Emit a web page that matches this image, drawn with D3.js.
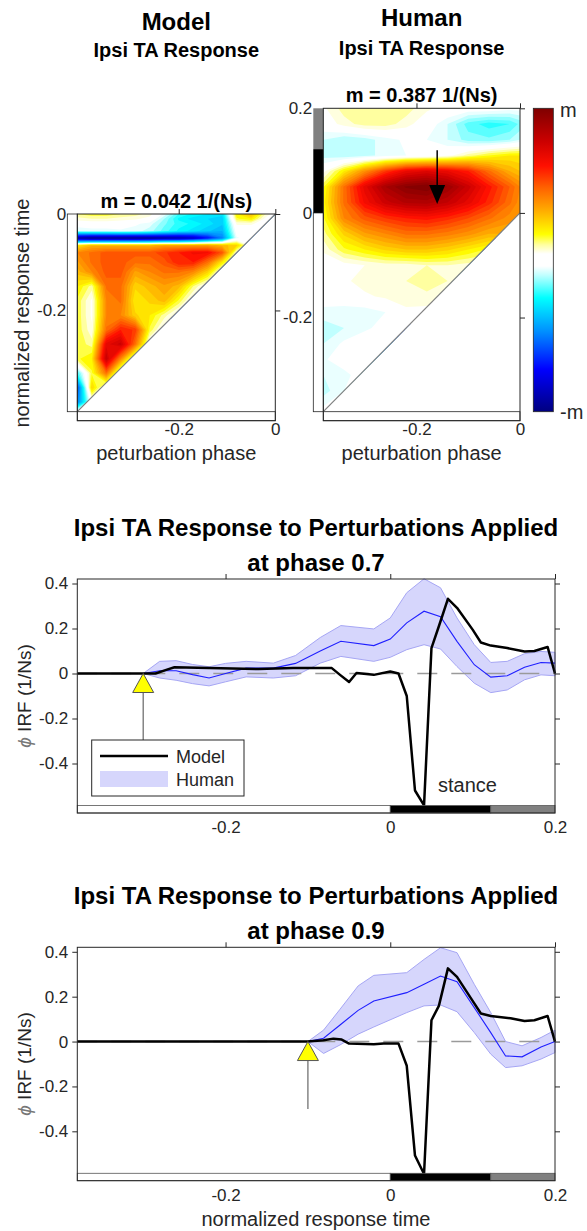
<!DOCTYPE html>
<html>
<head>
<meta charset="utf-8">
<script src="https://cdn.jsdelivr.net/npm/d3@7"></script>
<style>
  body { margin: 0; background: #fff; }
  text { font-family: "Liberation Sans", Arial, Helvetica, sans-serif; }
</style>
</head>
<body>
<div id="viz"></div>
<script>
// ---------- data ----------
// colour map, values relative to m
var cmapVals = [-1, -0.72, -0.47, -0.25, -0.1, -0.04, 0.04, 0.1, 0.17, 0.33, 0.48, 0.62, 0.78, 1];
var cmapCols = ['#00007f', '#0000ff', '#0090ff', '#00ffff', '#c0ffff', '#ffffff', '#ffffff',
                '#ffffa0', '#ffff00', '#ffaa00', '#ff6000', '#ff1000', '#cc0000', '#7f0000'];

// model IRF map (rows top -> bottom, normalised by m)
var modelCols = [-0.41, -0.38, -0.35, -0.32, -0.29, -0.26, -0.23, -0.20, -0.17, -0.14, -0.11, -0.08, -0.05, -0.02, 0];
var modelRows = [0, -0.01, -0.02, -0.035, -0.05, -0.065, -0.08, -0.10, -0.12, -0.15, -0.18, -0.21, -0.24, -0.27, -0.30, -0.33, -0.36, -0.39, -0.41];
var modelGrid = [
  [0.12, 0.15, 0.15, 0.12, 0.10, 0.06, -0.05, -0.20, -0.25, -0.28, -0.30, 0.20, 0.30, 0.08, 0],
  [0.06, 0.08, 0.08, 0.06, 0.05, 0.02, -0.12, -0.25, -0.30, -0.32, -0.35, 0.15, 0.20, 0.02, 0],
  [0.00, 0.00, 0.00, 0.00, -0.03, -0.06, -0.15, -0.22, -0.25, -0.30, -0.35, 0.05, 0.05, 0, 0],
  [-0.08, -0.06, -0.06, -0.05, -0.06, -0.10, -0.18, -0.25, -0.30, -0.35, -0.40, 0.00, 0, 0, 0],
  [-0.95, -1, -1, -1, -1, -0.98, -0.95, -0.92, -0.85, -0.70, -0.50, -0.05, 0, 0, 0],
  [0.20, 0.30, 0.30, 0.30, 0.30, 0.30, 0.35, 0.35, 0.35, 0.35, 0.30, 0.25, 0, 0, 0],
  [0.40, 0.45, 0.50, 0.50, 0.50, 0.50, 0.55, 0.60, 0.65, 0.65, 0.50, 0.05, 0, 0, 0],
  [0.35, 0.45, 0.50, 0.50, 0.45, 0.45, 0.50, 0.60, 0.60, 0.45, 0.20, 0, 0, 0, 0],
  [0.30, 0.40, 0.50, 0.50, 0.35, 0.40, 0.45, 0.45, 0.40, 0.25, 0, 0, 0, 0, 0],
  [0.20, 0.10, 0.45, 0.45, 0.25, 0.30, 0.35, 0.30, 0.12, 0, 0, 0, 0, 0, 0],
  [0.15, 0.03, 0.40, 0.45, 0.20, 0.25, 0.30, 0.15, 0, 0, 0, 0, 0, 0, 0],
  [0.15, 0.03, 0.40, 0.40, 0.25, 0.20, 0.10, 0, 0, 0, 0, 0, 0, 0, 0],
  [0.15, 0.05, 0.45, 0.60, 0.55, 0.15, 0, 0, 0, 0, 0, 0, 0, 0, 0],
  [0.15, 0.10, 0.70, 0.78, 0.45, 0, 0, 0, 0, 0, 0, 0, 0, 0, 0],
  [0.15, 0.20, 0.80, 0.40, 0, 0, 0, 0, 0, 0, 0, 0, 0, 0, 0],
  [-0.20, 0.15, 0.45, 0, 0, 0, 0, 0, 0, 0, 0, 0, 0, 0, 0],
  [-0.60, 0.25, 0, 0, 0, 0, 0, 0, 0, 0, 0, 0, 0, 0, 0],
  [-0.50, 0, 0, 0, 0, 0, 0, 0, 0, 0, 0, 0, 0, 0, 0],
  [0, 0, 0, 0, 0, 0, 0, 0, 0, 0, 0, 0, 0, 0, 0]
];

// human IRF map
var humanCols = [-0.38, -0.34, -0.30, -0.26, -0.22, -0.18, -0.14, -0.10, -0.06, -0.02, 0];
var humanRows = [0.2, 0.17, 0.14, 0.11, 0.08, 0.05, 0.02, -0.01, -0.04, -0.07, -0.10, -0.13, -0.16, -0.19, -0.22, -0.25, -0.28, -0.31, -0.34, -0.38];
var humanGrid = [
  [0.03, 0.10, 0.12, 0.12, 0.10, 0.05, 0.02, 0.00, 0.00, -0.02, -0.02],
  [0.00, 0.06, 0.10, 0.10, 0.06, 0.00, -0.08, -0.18, -0.22, -0.20, -0.15],
  [-0.08, -0.12, -0.10, -0.06, -0.03, -0.04, -0.08, -0.14, -0.15, -0.12, -0.08],
  [-0.10, -0.12, -0.10, -0.06, -0.04, -0.02, 0.02, 0.10, 0.16, 0.20, 0.20],
  [0.02, 0.20, 0.38, 0.55, 0.68, 0.72, 0.68, 0.60, 0.45, 0.32, 0.28],
  [0.15, 0.45, 0.70, 0.88, 0.97, 1.00, 0.92, 0.78, 0.62, 0.48, 0.40],
  [0.18, 0.45, 0.65, 0.78, 0.85, 0.86, 0.80, 0.70, 0.58, 0.45, 0.38],
  [0.15, 0.40, 0.50, 0.56, 0.60, 0.62, 0.58, 0.52, 0.45, 0.38, 0.38],
  [0.10, 0.25, 0.35, 0.40, 0.45, 0.45, 0.42, 0.38, 0.32, 0.32, 0.32],
  [0.05, 0.15, 0.20, 0.25, 0.28, 0.28, 0.25, 0.20, 0.15, 0.15, 0.15],
  [0.00, 0.02, 0.04, 0.06, 0.06, 0.08, 0.08, 0.06, 0.05, 0.05, 0.05],
  [-0.02, 0.03, 0.06, 0.05, 0.08, 0.10, 0.08, 0.05, 0.05, 0.05, 0.05],
  [0.00, 0.02, 0.03, 0.05, 0.08, 0.07, 0.05, 0.05, 0.05, 0.05, 0.05],
  [-0.06, -0.08, -0.07, -0.04, 0.02, 0.02, 0, 0, 0, 0, 0],
  [-0.10, -0.08, -0.05, -0.02, 0, 0, 0, 0, 0, 0, 0],
  [-0.08, -0.03, 0, 0, 0, 0, 0, 0, 0, 0, 0],
  [-0.05, 0, 0, 0, 0, 0, 0, 0, 0, 0, 0],
  [-0.08, -0.06, 0, 0, 0, 0, 0, 0, 0, 0, 0],
  [-0.10, -0.04, 0, 0, 0, 0, 0, 0, 0, 0, 0],
  [-0.02, 0, 0, 0, 0, 0, 0, 0, 0, 0, 0]
];
var humanArrowX = -0.16, humanArrowY = [0.12, 0.017];

// gait phase bar: white (swing) < 0, black (stance) to 0.122, grey after
var phaseEdges = [0, 0.122];
var phaseColors = ['#ffffff', '#000000', '#808080'];

// line charts
var pertPhases = ['0.7', '0.9'];
var pertTimes = [-0.30, -0.10];

var model07X = [-0.38, -0.30, -0.285, -0.272, -0.262, -0.22, -0.16, -0.118, -0.085, -0.071, -0.061, -0.05, -0.041, -0.02, 0, 0.01, 0.02, 0.03, 0.041, 0.05, 0.059, 0.07, 0.081, 0.10, 0.11, 0.122, 0.142, 0.163, 0.175, 0.191, 0.20];
var model07Y = [0, 0, 0.0, 0.016, 0.028, 0.024, 0.02, 0.024, 0.024, 0.024, -0.006, -0.038, 0.002, -0.006, 0.009, 0.0, -0.10, -0.52, -0.586, 0.113, 0.21, 0.332, 0.292, 0.195, 0.138, 0.124, 0.113, 0.098, 0.10, 0.118, 0.0];
var human07X = [-0.30, -0.28, -0.26, -0.24, -0.22, -0.20, -0.175, -0.142, -0.115, -0.085, -0.06, -0.02, 0, 0.02, 0.041, 0.061, 0.081, 0.102, 0.122, 0.142, 0.163, 0.183, 0.20];
var human07Mean = [0, 0.012, 0.012, -0.005, -0.02, 0.0, 0.024, 0.024, 0.045, 0.10, 0.143, 0.124, 0.153, 0.225, 0.277, 0.252, 0.143, 0.039, -0.016, -0.01, 0.028, 0.049, 0.046];
var human07Lo = [0, -0.02, -0.03, -0.045, -0.055, -0.037, -0.015, -0.02, -0.01, 0.046, 0.076, 0.054, 0.072, 0.106, 0.128, 0.109, 0.031, -0.043, -0.085, -0.073, -0.028, -0.006, -0.01];
var human07Hi = [0, 0.054, 0.057, 0.04, 0.03, 0.045, 0.054, 0.046, 0.08, 0.16, 0.213, 0.198, 0.247, 0.359, 0.421, 0.381, 0.247, 0.128, 0.049, 0.054, 0.088, 0.098, 0.094];

var model09X = [-0.38, -0.10, -0.081, -0.069, -0.059, -0.05, -0.02, -0.008, 0.01, 0.02, 0.03, 0.041, 0.05, 0.059, 0.07, 0.081, 0.10, 0.11, 0.122, 0.146, 0.163, 0.175, 0.191, 0.20];
var model09Y = [0, 0, 0.006, 0.013, 0.009, -0.009, -0.012, -0.009, -0.009, -0.108, -0.508, -0.59, 0.095, 0.159, 0.326, 0.288, 0.181, 0.125, 0.114, 0.104, 0.092, 0.095, 0.114, 0.0];
var human09X = [-0.10, -0.081, -0.061, -0.039, -0.02, 0.02, 0.041, 0.061, 0.081, 0.102, 0.122, 0.14, 0.16, 0.183, 0.20];
var human09Mean = [0, 0.015, 0.074, 0.139, 0.181, 0.218, 0.255, 0.292, 0.267, 0.151, 0.04, -0.064, -0.068, -0.024, 0.0];
var human09Lo = [0, -0.053, -0.015, 0.033, 0.065, 0.129, 0.159, 0.163, 0.133, 0.04, -0.056, -0.116, -0.108, -0.078, -0.049];
var human09Hi = [0, 0.051, 0.144, 0.248, 0.295, 0.307, 0.366, 0.418, 0.396, 0.255, 0.129, 0.0, -0.019, 0.018, 0.051];

var heatTicksX = [-0.2, 0];
var modelTicksY = [-0.2, 0];
var humanTicksY = [-0.2, 0, 0.2];
var lineTicksX = [-0.2, 0, 0.2];
var lineTicksY = [-0.4, -0.2, 0, 0.2, 0.4];

// ---------- helpers ----------
var INK = '#262626';
var FONT = '"Liberation Sans", Arial, Helvetica, sans-serif';
var fmt = function(d) { return d === 0 ? '0' : String(d); };
var cmap = d3.scaleLinear().domain(cmapVals).range(cmapCols).clamp(true);
var levelStep = 0.04;
var levels = d3.range(-1.04, 0.999, levelStep);

var svg = d3.select('#viz').append('svg')
    .attr('width', 587)
    .attr('height', 1231);

function label(x, y, s, size, weight, anchor) {
  return svg.append('text')
    .attr('x', x).attr('y', y)
    .attr('text-anchor', anchor || 'middle')
    .attr('font-size', size)
    .attr('font-weight', weight || 'normal')
    .attr('fill', weight === 'bold' ? '#000' : INK)
    .text(s);
}

function styleAxis(g, size) {
  g.attr('font-family', FONT).attr('font-size', size);
  g.select('.domain').remove();
  g.selectAll('.tick line').attr('stroke', INK);
  g.selectAll('.tick text').attr('fill', INK);
}

function ringPath(ring, fx, fy) {
  return 'M' + ring.map(function(p) {
    return fx(p[0]).toFixed(2) + ',' + fy(p[1]).toFixed(2);
  }).join('L') + 'Z';
}

function drawHeat(cols, rows, grid, xS, yS, clipId, clipPts) {
  var n = cols.length, m = rows.length;
  var uS = d3.scaleLinear().domain(d3.range(n).map(function(i) { return i + 0.5; })).range(cols).clamp(true);
  var vS = d3.scaleLinear().domain(d3.range(m).map(function(j) { return j + 0.5; })).range(rows).clamp(true);
  var fx = function(u) { return xS(uS(u)); };
  var fy = function(v) { return yS(vS(v)); };
  var conts = d3.contours().size([n, m]).thresholds(levels)(d3.merge(grid));

  svg.append('clipPath').attr('id', clipId)
    .append('polygon')
    .attr('points', clipPts.map(function(p) { return xS(p[0]) + ',' + yS(p[1]); }).join(' '));

  svg.append('g').attr('clip-path', 'url(#' + clipId + ')')
    .selectAll('path').data(conts).join('path')
    .attr('d', function(c) {
      return c.coordinates.map(function(poly) {
        return poly.map(function(r) { return ringPath(r, fx, fy); }).join('');
      }).join('');
    })
    .attr('fill', function(c) { return cmap(c.value + levelStep / 2); })
    .attr('fill-rule', 'evenodd');

  // diagonal (perturbation time = response time)
  svg.append('line')
    .attr('x1', xS(clipPts[0][0])).attr('y1', yS(clipPts[0][1]))
    .attr('x2', xS(0)).attr('y2', yS(0))
    .attr('stroke', '#808080').attr('stroke-width', 1.2);
}

// phase segments between lo and hi
function phaseSegs(lo, hi) {
  var cuts = [lo].concat(phaseEdges, [hi]);
  var out = [];
  for (var i = 0; i < cuts.length - 1; i++) {
    var a = Math.max(lo, cuts[i]), b = Math.min(hi, cuts[i + 1]);
    if (b > a) out.push({a: a, b: b, c: phaseColors[i]});
  }
  return out;
}

// ---------- heat maps ----------
function heatPanel(p) {
  var xS = p.x, yS = p.y;
  var x0 = xS.domain()[0], x1 = xS.domain()[1];
  var y0 = yS.domain()[0], y1 = yS.domain()[1];
  var clip = [[x0, x0], [x0, y1], [x1, y1], [x1, 0]];
  if (y1 <= 0) clip = [[x0, x0], [x0, y1], [x1, y1]];
  drawHeat(p.cols, p.rows, p.grid, xS, yS, p.id, clip);

  var L = xS(x0), R = xS(x1), T = yS(y1), B = yS(y0);
  // bottom phase bar (all swing)
  phaseSegs(x0, x1).forEach(function(s) {
    svg.append('rect').attr('x', xS(s.a)).attr('y', B).attr('width', xS(s.b) - xS(s.a)).attr('height', 9)
      .attr('fill', s.c).attr('stroke', INK).attr('stroke-width', 0.8);
  });
  // left phase bar
  phaseSegs(y0, y1).forEach(function(s) {
    svg.append('rect').attr('x', L - 10).attr('y', yS(s.b)).attr('width', 10).attr('height', yS(s.a) - yS(s.b))
      .attr('fill', s.c).attr('stroke', s.c === '#ffffff' ? INK : 'none').attr('stroke-width', 0.8);
  });
  svg.append('rect').attr('x', L).attr('y', T).attr('width', R - L).attr('height', B + 9 - T)
    .attr('fill', 'none').attr('stroke', INK).attr('stroke-width', 1);

  var ax = svg.append('g').attr('transform', 'translate(0,' + (B + 9) + ')')
    .call(d3.axisBottom(xS).tickValues(heatTicksX).tickSize(0).tickPadding(2).tickFormat(fmt));
  styleAxis(ax, 17);
  var at = svg.append('g').attr('transform', 'translate(0,' + T + ')')
    .call(d3.axisTop(xS).tickValues(heatTicksX).tickSize(5).tickFormat(''));
  styleAxis(at, 17);
  var ay = svg.append('g').attr('transform', 'translate(' + (L - 10) + ',0)')
    .call(d3.axisLeft(yS).tickValues(p.ticksY).tickSize(0).tickPadding(1).tickFormat(fmt));
  styleAxis(ay, 17);
  var ar = svg.append('g').attr('transform', 'translate(' + R + ',0)')
    .call(d3.axisRight(yS).tickValues(p.ticksY).tickSize(5).tickFormat(''));
  styleAxis(ar, 17);

  var cx = (L + R) / 2;
  label(cx, 460, 'peturbation phase', 20);
  label(cx, p.t1, p.who, 24, 'bold');
  label(cx, p.t2, 'Ipsi TA Response', 20, 'bold');
  label(cx, T - 6, p.mText, 20, 'bold');
}

var xM = d3.scaleLinear().domain([-0.41, 0]).range([77.3, 275.3]);
var yM = d3.scaleLinear().domain([-0.41, 0]).range([411.7, 214]);
heatPanel({x: xM, y: yM, cols: modelCols, rows: modelRows, grid: modelGrid, id: 'clipM',
           ticksY: modelTicksY, who: 'Model', t1: 30, t2: 57, mText: 'm = 0.042 1/(Ns)'});

var xH = d3.scaleLinear().domain([-0.38, 0]).range([323.3, 520]);
var yH = d3.scaleLinear().domain([-0.38, 0.2]).range([411.7, 108.3]);
heatPanel({x: xH, y: yH, cols: humanCols, rows: humanRows, grid: humanGrid, id: 'clipH',
           ticksY: humanTicksY, who: 'Human', t1: 26, t2: 55, mText: 'm = 0.387 1/(Ns)'});

svg.append('text')
  .attr('transform', 'translate(29,313) rotate(-90)')
  .attr('text-anchor', 'middle').attr('font-size', 20).attr('fill', INK)
  .text('normalized response time');

// arrow on the human map
svg.append('line')
  .attr('x1', xH(humanArrowX)).attr('x2', xH(humanArrowX))
  .attr('y1', yH(humanArrowY[0])).attr('y2', yH(humanArrowY[1]) - 18)
  .attr('stroke', '#000').attr('stroke-width', 1.5);
svg.append('polygon')
  .attr('points', [[xH(humanArrowX), yH(humanArrowY[1])],
                   [xH(humanArrowX) - 8, yH(humanArrowY[1]) - 19],
                   [xH(humanArrowX) + 8, yH(humanArrowY[1]) - 19]].join(' '))
  .attr('fill', '#000');

// colour bar
var cb = d3.scaleLinear().domain([-1, 1]).range([411.7, 108.3]);
var grad = svg.append('defs').append('linearGradient').attr('id', 'cbar')
  .attr('x1', 0).attr('y1', 1).attr('x2', 0).attr('y2', 0);
grad.selectAll('stop').data(cmapVals).join('stop')
  .attr('offset', function(d) { return (d + 1) / 2; })
  .attr('stop-color', function(d, i) { return cmapCols[i]; });
svg.append('rect').attr('x', 533.3).attr('y', cb(1)).attr('width', 20).attr('height', cb(-1) - cb(1))
  .attr('fill', 'url(#cbar)').attr('stroke', INK).attr('stroke-width', 0.8);
label(560, cb(1) + 9, 'm', 20, 'normal', 'start');
label(560, cb(-1) + 7, '-m', 20, 'normal', 'start');

// ---------- line charts ----------
function lineChart(c) {
  var x = d3.scaleLinear().domain([-0.38, 0.2]).range([77.3, 555]);
  var y = d3.scaleLinear().domain([-0.62, 0.42]).range([c.bottom, c.top]);
  var g = svg.append('g');

  var hum = c.hx.map(function(d, i) { return {x: d, m: c.hm[i], lo: c.hlo[i], hi: c.hhi[i]}; });
  var mod = c.mx.map(function(d, i) { return {x: d, y: c.my[i]}; });

  g.append('path').datum(hum)
    .attr('d', d3.area().x(function(d) { return x(d.x); })
      .y0(function(d) { return y(d.lo); }).y1(function(d) { return y(d.hi); }))
    .attr('fill', '#d6d6fc').attr('stroke', '#a6a6f4').attr('stroke-width', 1);

  g.append('line')
    .attr('x1', x(-0.38)).attr('x2', x(0.2)).attr('y1', y(0)).attr('y2', y(0))
    .attr('stroke', '#9a9a9a').attr('stroke-width', 1.4).attr('stroke-dasharray', '20,14');

  g.append('path').datum(hum)
    .attr('d', d3.line().x(function(d) { return x(d.x); }).y(function(d) { return y(d.m); }))
    .attr('fill', 'none').attr('stroke', '#1f1fff').attr('stroke-width', 1.1);

  g.append('path').datum(mod)
    .attr('d', d3.line().x(function(d) { return x(d.x); }).y(function(d) { return y(d.y); }))
    .attr('fill', 'none').attr('stroke', '#000').attr('stroke-width', 2.5).attr('stroke-linejoin', 'round');

  // phase bar
  phaseSegs(-0.38, 0.2).forEach(function(s) {
    g.append('rect').attr('x', x(s.a)).attr('y', y(-0.587)).attr('width', x(s.b) - x(s.a))
      .attr('height', y(-0.62) - y(-0.587))
      .attr('fill', s.c).attr('stroke', '#555').attr('stroke-width', 0.8);
  });

  // perturbation marker
  var px = x(c.pert), py = y(0);
  g.append('line').attr('x1', px).attr('x2', px).attr('y1', py + 19).attr('y2', y(-0.3))
    .attr('stroke', '#666').attr('stroke-width', 1.2);
  g.append('polygon')
    .attr('points', [[px, py], [px - 10.5, py + 19], [px + 10.5, py + 19]].join(' '))
    .attr('fill', '#ffff00').attr('stroke', '#555').attr('stroke-width', 1);

  g.append('rect').attr('x', 77.3).attr('y', c.top).attr('width', 555 - 77.3).attr('height', c.bottom - c.top)
    .attr('fill', 'none').attr('stroke', INK).attr('stroke-width', 1);

  var al = svg.append('g').attr('transform', 'translate(77.3,0)')
    .call(d3.axisLeft(y).tickValues(lineTicksY).tickSize(5).tickPadding(4).tickFormat(fmt));
  styleAxis(al, 17);
  var ar = svg.append('g').attr('transform', 'translate(555,0)')
    .call(d3.axisRight(y).tickValues(lineTicksY).tickSize(5).tickFormat(''));
  styleAxis(ar, 17);
  var at = svg.append('g').attr('transform', 'translate(0,' + c.top + ')')
    .call(d3.axisTop(x).tickValues(lineTicksX).tickSize(5).tickFormat(''));
  styleAxis(at, 17);
  var ab = svg.append('g').attr('transform', 'translate(0,' + c.bottom + ')')
    .call(d3.axisBottom(x).tickValues(lineTicksX).tickSize(0).tickPadding(8).tickFormat(fmt));
  styleAxis(ab, 17);

  var yl = svg.append('text')
    .attr('transform', 'translate(31,' + ((c.top + c.bottom) / 2) + ') rotate(-90)')
    .attr('text-anchor', 'middle').attr('font-size', 19).attr('fill', INK);
  yl.append('tspan').attr('font-style', 'italic').attr('fill', '#777').text('\u03D5');
  yl.append('tspan').text(' IRF (1/Ns)');

  label(316, c.top - 43, 'Ipsi TA Response to Perturbations Applied', 24, 'bold');
  label(316, c.top - 8, 'at phase ' + c.phase, 24, 'bold');
  return {x: x, y: y};
}

lineChart({top: 579, bottom: 813, phase: pertPhases[0], pert: pertTimes[0],
           mx: model07X, my: model07Y, hx: human07X, hm: human07Mean, hlo: human07Lo, hhi: human07Hi});
lineChart({top: 947.3, bottom: 1180.7, phase: pertPhases[1], pert: pertTimes[1],
           mx: model09X, my: model09Y, hx: human09X, hm: human09Mean, hlo: human09Lo, hhi: human09Hi});

// legend + stance label (first chart only)
svg.append('rect').attr('x', 91.7).attr('y', 740).attr('width', 152.3).attr('height', 56)
  .attr('fill', '#fff').attr('stroke', INK).attr('stroke-width', 1);
svg.append('line').attr('x1', 100).attr('x2', 168).attr('y1', 756).attr('y2', 756)
  .attr('stroke', '#000').attr('stroke-width', 2.5);
svg.append('rect').attr('x', 100).attr('y', 771).attr('width', 68).attr('height', 16)
  .attr('fill', '#d6d6fc');
label(176, 763, 'Model', 18, 'normal', 'start');
label(176, 786, 'Human', 18, 'normal', 'start');
label(438, 792, 'stance', 20, 'normal', 'start');

label(316, 1226, 'normalized response time', 20);
</script>
</body>
</html>
